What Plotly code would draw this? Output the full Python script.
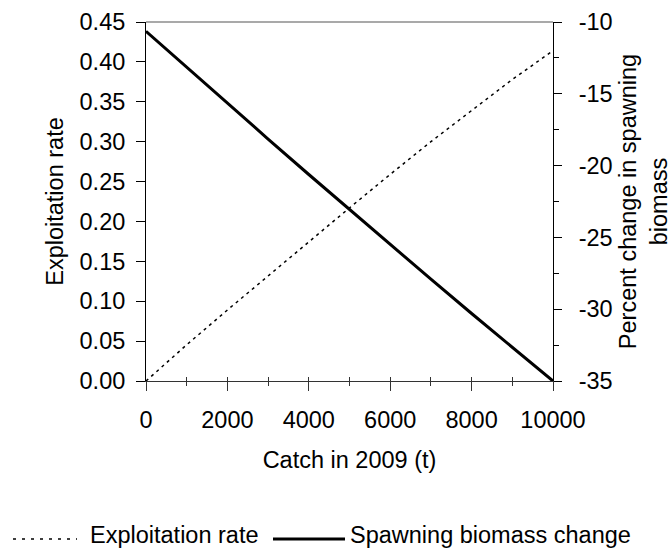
import plotly.graph_objects as go

# ---- data ----
catch_t = [0, 1000, 2000, 3000, 4000, 5000, 6000, 7000, 8000, 9000, 10000]
exploitation_rate = [0.0, 0.0454, 0.089, 0.132, 0.174, 0.217, 0.259, 0.300, 0.339, 0.378, 0.414]
biomass_change = [-10.65, -13.16, -15.66, -18.15, -20.62, -23.07, -25.50, -27.91, -30.30, -32.66, -35.00]

left_ticks = [0.0, 0.05, 0.10, 0.15, 0.20, 0.25, 0.30, 0.35, 0.40, 0.45]
right_ticks = [-35, -30, -25, -20, -15, -10]
x_ticks = [0, 2000, 4000, 6000, 8000, 10000]

FONT = "Liberation Sans, Arial, sans-serif"
FS = 23.5
W, H = 672, 550
L, R, T, B = 146, 553, 22, 381  # plot area pixel box

def px(x):
    return (x - L) / (R - L)

def py(y):
    return (B - y) / (B - T)

fig = go.Figure()
fig.add_trace(go.Scatter(x=catch_t, y=exploitation_rate, mode="lines",
                         name="Exploitation rate",
                         line=dict(color="black", width=1.5, dash="3px,4px"),
                         xaxis="x", yaxis="y", showlegend=False))
fig.add_trace(go.Scatter(x=catch_t, y=biomass_change, mode="lines",
                         name="Spawning biomass change",
                         line=dict(color="black", width=3),
                         xaxis="x", yaxis="y2", showlegend=False))
# invisible trace that carries the overlay axis used for inward tick marks
fig.add_trace(go.Scatter(x=[catch_t[0]], y=[exploitation_rate[0]], mode="markers",
                         marker=dict(opacity=0), hoverinfo="skip",
                         xaxis="x3", yaxis="y", showlegend=False))

tickfont = dict(family=FONT, size=FS, color="black")

fig.update_layout(
    width=W, height=H,
    margin=dict(l=L, r=W - R, t=T, b=H - B, autoexpand=False),
    paper_bgcolor="white", plot_bgcolor="white",
    font=dict(family=FONT, size=FS, color="black"),
    xaxis=dict(range=[0, 10000], tickvals=x_ticks, ticktext=[str(v) for v in x_ticks],
               ticks="outside", ticklen=9, tickwidth=1, tickcolor="#333",
               minor=dict(dtick=1000, ticks="outside", ticklen=4, tickcolor="#333", tickwidth=1),
               showline=True, linecolor="#333", linewidth=1, showgrid=False, zeroline=False,
               tickfont=tickfont, ticklabelstandoff=9,
               title=dict(text="Catch in 2009 (t)", font=tickfont, standoff=19)),
    xaxis3=dict(range=[0, 10000], overlaying="x", side="bottom", anchor="y",
                dtick=1000, tick0=0, ticks="inside", ticklen=4, tickcolor="#333",
                showticklabels=False, showline=False, showgrid=False, zeroline=False),
    yaxis=dict(range=[0, 0.45], tickvals=left_ticks, ticktext=[f"{v:.2f}" for v in left_ticks],
               ticks="outside", ticklen=9, tickcolor="black",
               showline=True, linecolor="black", linewidth=1, showgrid=False, zeroline=False,
               tickfont=tickfont, ticklabelstandoff=6,
               title=dict(text="Exploitation rate", font=tickfont, standoff=9)),
    yaxis2=dict(range=[-35, -10], overlaying="y", side="right", anchor="x",
                tickvals=right_ticks, ticktext=[str(v) for v in right_ticks],
                ticks="outside", ticklen=8, tickcolor="black",
                minor=dict(dtick=2.5, tick0=-35, ticks="outside", ticklen=5, tickcolor="black"),
                showline=True, linecolor="black", linewidth=1, showgrid=False, zeroline=False,
                tickfont=tickfont, ticklabelstandoff=12,
                title=dict(text="Percent change in spawning<br>biomass", font=tickfont, standoff=10)),
)

# top frame line (grey)
fig.add_shape(type="line", xref="paper", yref="paper", x0=0, x1=1, y0=1, y1=1,
              line=dict(color="#8c8c8c", width=1.5))

# custom legend (longer line samples than Plotly's built-in legend)
leg_line_y = py(539)
leg_text_y = py(535)
fig.add_shape(type="line", xref="paper", yref="paper", x0=px(13), x1=px(77), y0=leg_line_y, y1=leg_line_y,
              line=dict(color="black", width=1.5, dash="3px,6px"))
fig.add_annotation(xref="paper", yref="paper", x=px(89), y=leg_text_y, text="Exploitation rate",
                   showarrow=False, xanchor="left", yanchor="middle", font=tickfont, borderpad=0)
fig.add_shape(type="line", xref="paper", yref="paper", x0=px(273), x1=px(345), y0=leg_line_y, y1=leg_line_y,
              line=dict(color="black", width=3))
fig.add_annotation(xref="paper", yref="paper", x=px(349), y=leg_text_y, text="Spawning biomass change",
                   showarrow=False, xanchor="left", yanchor="middle", font=tickfont, borderpad=0)

fig.write_html("out.html")
